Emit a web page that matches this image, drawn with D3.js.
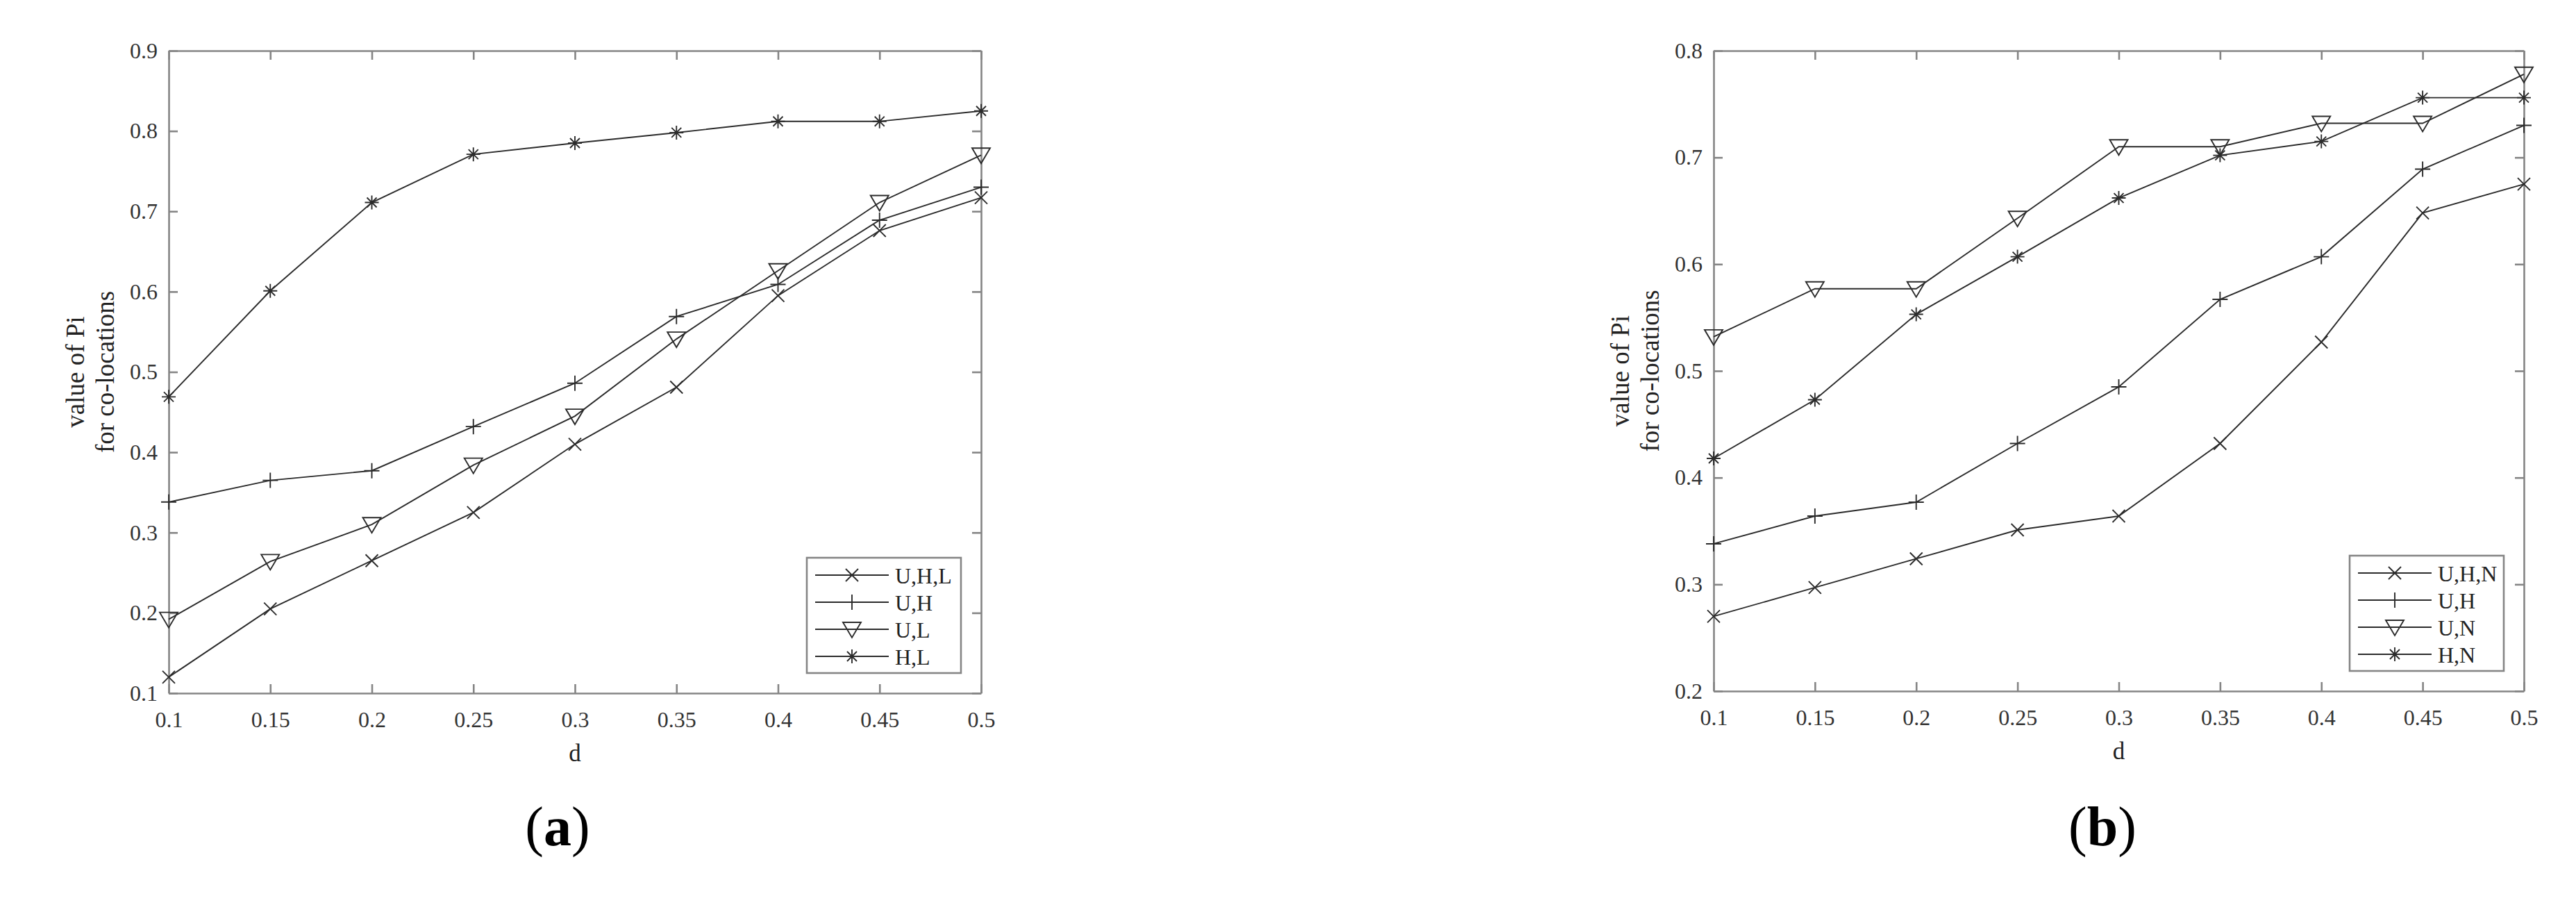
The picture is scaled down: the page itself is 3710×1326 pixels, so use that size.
<!DOCTYPE html>
<html><head><meta charset="utf-8">
<script src="https://cdn.jsdelivr.net/npm/d3@7"></script>
<style>body{margin:0;background:#fff}</style>
</head><body><script>
// ---- data ----
const dValues = [0.1, 0.15, 0.2, 0.25, 0.3, 0.35, 0.4, 0.45, 0.5];
const xTickLabels = ["0.1", "0.15", "0.2", "0.25", "0.3", "0.35", "0.4", "0.45", "0.5"];
const yTicksA = [0.1, 0.2, 0.3, 0.4, 0.5, 0.6, 0.7, 0.8, 0.9];
const yTickLabelsA = ["0.1", "0.2", "0.3", "0.4", "0.5", "0.6", "0.7", "0.8", "0.9"];
const yTicksB = [0.2, 0.3, 0.4, 0.5, 0.6, 0.7, 0.8];
const yTickLabelsB = ["0.2", "0.3", "0.4", "0.5", "0.6", "0.7", "0.8"];

const seriesNamesA = ["U,H,L", "U,H", "U,L", "H,L"];
const valuesA_UHL = [0.120, 0.205, 0.265, 0.325, 0.410, 0.481, 0.595, 0.676, 0.717];
const valuesA_UH  = [0.338, 0.365, 0.377, 0.432, 0.486, 0.569, 0.609, 0.689, 0.730];
const valuesA_UL  = [0.192, 0.264, 0.310, 0.384, 0.445, 0.541, 0.626, 0.711, 0.770];
const valuesA_HL  = [0.469, 0.601, 0.711, 0.771, 0.785, 0.798, 0.812, 0.812, 0.825];

const seriesNamesB = ["U,H,N", "U,H", "U,N", "H,N"];
const valuesB_UHN = [0.270, 0.297, 0.324, 0.351, 0.364, 0.432, 0.527, 0.648, 0.675];
const valuesB_UH  = [0.338, 0.364, 0.377, 0.432, 0.485, 0.567, 0.607, 0.689, 0.730];
const valuesB_UN  = [0.532, 0.577, 0.577, 0.643, 0.710, 0.710, 0.732, 0.732, 0.778];
const valuesB_HN  = [0.418, 0.473, 0.553, 0.607, 0.662, 0.702, 0.715, 0.756, 0.756];

const markerKinds = ["x", "+", "v", "*"];
const yLabelLines = ["value of Pi", "for co-locations"];
const xLabel = "d";
const panelLetters = ["a", "b"];

// ---- drawing ----
const W = 3710, H = 1326;
const FONT = "'Liberation Serif', 'Times New Roman', serif";
const LINE = "#2b2b2b", AXIS = "#858585", TXT = "#333";

const svg = d3.select("body").append("svg")
  .attr("width", W).attr("height", H)
  .attr("viewBox", `0 0 ${W} ${H}`);
svg.append("rect").attr("width", W).attr("height", H).attr("fill", "#fff");

function markerPath(kind) {
  switch (kind) {
    case "x": { const h = 9; return `M${-h},${-h}L${h},${h}M${-h},${h}L${h},${-h}`; }
    case "+": { const h = 11; return `M${-h},0L${h},0M0,${-h}L0,${h}`; }
    case "v": return "M-13,-10L13,-10L0,12Z";
    case "*": { const h = 10, k = 7; return `M${-h},0L${h},0M0,${-h}L0,${h}M${-k},${-k}L${k},${k}M${-k},${k}L${k},${-k}`; }
  }
}

function drawPanel(cfg) {
  const g = svg.append("g");
  const x = d3.scaleLinear().domain([0.1, 0.5]).range([cfg.left, cfg.right]);
  const y = d3.scaleLinear().domain(cfg.yDomain).range([cfg.bottom, cfg.top]);
  const tick = 13;

  const styleAxis = sel => {
    sel.select(".domain").attr("stroke", AXIS).attr("stroke-width", 2.6);
    sel.selectAll(".tick line").attr("stroke", AXIS).attr("stroke-width", 2.6);
    sel.selectAll(".tick text").attr("fill", TXT)
      .style("font-family", FONT).style("font-size", "32px");
  };

  g.append("g").attr("transform", `translate(0,${cfg.bottom})`)
    .call(d3.axisBottom(x).tickValues(dValues).tickFormat((d, i) => xTickLabels[i])
      .tickSizeInner(-tick).tickSizeOuter(0).tickPadding(26))
    .call(styleAxis);
  g.append("g").attr("transform", `translate(0,${cfg.top})`)
    .call(d3.axisTop(x).tickValues(dValues).tickFormat("")
      .tickSizeInner(-tick).tickSizeOuter(0))
    .call(styleAxis);
  g.append("g").attr("transform", `translate(${cfg.left},0)`)
    .call(d3.axisLeft(y).tickValues(cfg.yTicks).tickFormat((d, i) => cfg.yTickLabels[i])
      .tickSizeInner(-tick).tickSizeOuter(0).tickPadding(16))
    .call(styleAxis);
  g.append("g").attr("transform", `translate(${cfg.right},0)`)
    .call(d3.axisRight(y).tickValues(cfg.yTicks).tickFormat("")
      .tickSizeInner(-tick).tickSizeOuter(0))
    .call(styleAxis);

  const line = d3.line().x((d, i) => x(dValues[i])).y(d => y(d));
  cfg.series.forEach((vals, si) => {
    g.append("path").attr("d", line(vals)).attr("fill", "none")
      .attr("stroke", LINE).attr("stroke-width", 1.9);
    g.selectAll(null).data(vals).enter().append("path")
      .attr("transform", (d, i) => `translate(${x(dValues[i])},${y(d)})`)
      .attr("d", markerPath(markerKinds[si]))
      .attr("fill", "none").attr("stroke", LINE).attr("stroke-width", 1.9);
  });

  // axis labels
  g.append("text").attr("x", (cfg.left + cfg.right) / 2).attr("y", cfg.bottom + 98)
    .attr("text-anchor", "middle").attr("fill", "#222")
    .style("font-family", FONT).style("font-size", "35px").text(xLabel);
  const cy = (cfg.top + cfg.bottom) / 2;
  yLabelLines.forEach((t, i) => {
    const bx = cfg.left - (i === 0 ? 122 : 79);
    g.append("text").attr("transform", `translate(${bx},${cy}) rotate(-90)`)
      .attr("text-anchor", "middle").attr("fill", "#222")
      .style("font-family", FONT).style("font-size", "37px").text(t);
  });

  // legend
  const lw = 222, lh = 166;
  const lx = cfg.right - 29 - lw, ly = cfg.bottom - 29 - lh;
  const lg = g.append("g").attr("transform", `translate(${lx},${ly})`);
  lg.append("rect").attr("width", lw).attr("height", lh)
    .attr("fill", "#fff").attr("stroke", AXIS).attr("stroke-width", 2.6);
  cfg.names.forEach((n, i) => {
    const ry = 25 + i * 39;
    lg.append("line").attr("x1", 12).attr("x2", 118).attr("y1", ry).attr("y2", ry)
      .attr("stroke", LINE).attr("stroke-width", 1.9);
    lg.append("path").attr("transform", `translate(65,${ry})`)
      .attr("d", markerPath(markerKinds[i]))
      .attr("fill", "none").attr("stroke", LINE).attr("stroke-width", 1.9);
    lg.append("text").attr("x", 127).attr("y", ry).attr("dy", "0.36em")
      .attr("fill", "#222").style("font-family", FONT).style("font-size", "32px").text(n);
  });

  // panel letter
  const t = g.append("text").attr("x", cfg.letterX).attr("y", 1217)
    .attr("text-anchor", "middle").attr("fill", "#000")
    .style("font-family", FONT).style("font-size", "80px");
  t.append("tspan").text("(");
  t.append("tspan").attr("font-weight", "bold").text(cfg.letter);
  t.append("tspan").text(")");
}

drawPanel({
  left: 243, right: 1413, top: 73, bottom: 998,
  yDomain: [0.1, 0.9], yTicks: yTicksA, yTickLabels: yTickLabelsA,
  series: [valuesA_UHL, valuesA_UH, valuesA_UL, valuesA_HL],
  names: seriesNamesA, letter: panelLetters[0], letterX: 803
});
drawPanel({
  left: 2468, right: 3635, top: 73, bottom: 995,
  yDomain: [0.2, 0.8], yTicks: yTicksB, yTickLabels: yTickLabelsB,
  series: [valuesB_UHN, valuesB_UH, valuesB_UN, valuesB_HN],
  names: seriesNamesB, letter: panelLetters[1], letterX: 3028
});
</script></body></html>
